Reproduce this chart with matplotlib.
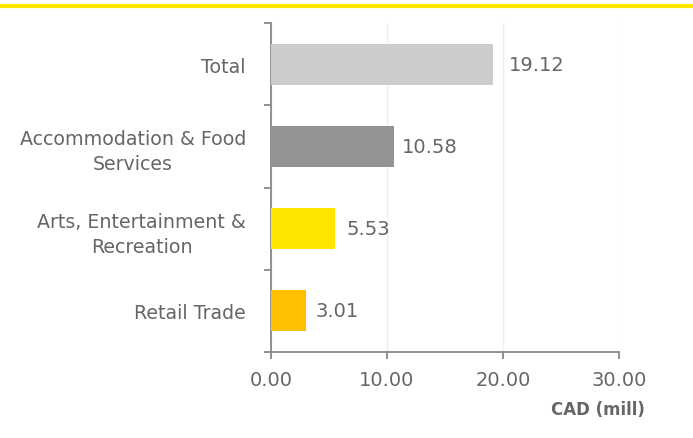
import matplotlib
matplotlib.use("Agg")
import matplotlib.pyplot as plt

categories = ["Retail Trade", "Arts, Entertainment &\nRecreation",
              "Accommodation & Food\nServices", "Total"]
values = [3.01, 5.53, 10.58, 19.12]
colors = ["#ffc000", "#ffe600", "#939393", "#cccccc"]
xticks = [0, 10, 20, 30]

text_col = "#666666"
axis_col = "#888888"

fig = plt.figure(figsize=(6.93, 4.39), dpi=100)
ax = fig.add_axes([0.391, 0.196, 0.502, 0.749])

pos = list(range(len(categories)))
ax.barh(pos, values, height=0.5, color=colors, zorder=3)
# labels were nudged by hand in the original, so the gap varies a bit
label_gap = [7, 8, 6, 12]
for p, v, g in zip(pos, values, label_gap):
    ax.annotate(f"{v:.2f}", (v, p), xytext=(g, 0), textcoords="offset points",
                va="center", ha="left", fontsize=14, color=text_col)

ax.set_xlim(0, 30)
ax.set_ylim(-0.5, len(categories) - 0.5)
ax.set_xticks(xticks)
ax.set_xticklabels([f"{t:.2f}" for t in xticks], fontsize=14, color=text_col)
ax.set_yticks(pos)
ax.set_yticklabels(categories, fontsize=13.7, color=text_col,
                   multialignment="center", linespacing=1.4)
ax.tick_params(axis="y", length=0, pad=18)
ax.tick_params(axis="x", length=5, width=1.3, color=axis_col, pad=8)
# category boundary ticks on the y axis
ax.set_yticks([p - 0.5 for p in pos] + [len(pos) - 0.5], minor=True)
ax.tick_params(axis="y", which="minor", length=5, width=1.3, color=axis_col)

ax.grid(axis="x", color="#eeeeee", linewidth=1, zorder=0)
for s in ["top", "right"]:
    ax.spines[s].set_visible(False)
for s in ["left", "bottom"]:
    ax.spines[s].set_color(axis_col)
    ax.spines[s].set_linewidth(1.3)

fig.text(645 / 693, 1 - 410 / 439, "CAD (mill)", ha="right", va="center",
         fontsize=12, fontweight="bold", color=text_col)

# yellow rule across the top
fig.add_artist(plt.Line2D([0, 1], [1 - 7 / 439, 1 - 7 / 439],
                          color="#ffe600", linewidth=3,
                          transform=fig.transFigure))

fig.savefig("out.png", dpi=100)
